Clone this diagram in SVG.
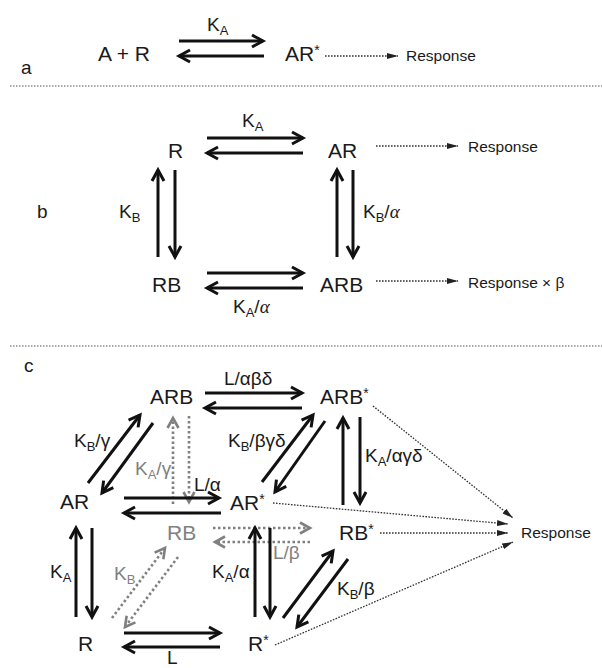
<svg xmlns="http://www.w3.org/2000/svg" width="602" height="668" viewBox="0 0 602 668">
<defs>
<style>
text{font-family:"Liberation Sans",Arial,sans-serif;fill:#1a1a1a}
.n{font-size:21px}
.r{font-size:19px}
.lab{font-size:19px}
.resp{font-size:15.5px}
.g{fill:#7f7f7f}
.sub{font-size:13px}
.star{font-size:14px}
.s{stroke:#111;stroke-width:3;fill:none;marker-end:url(#ah)}
.gd{stroke:#808080;stroke-width:2.6;stroke-dasharray:2.5 2.5;fill:none;marker-end:url(#gh)}
.d{stroke:#333;stroke-width:1.3;stroke-dasharray:1.6 1.4;fill:none;marker-end:url(#dh)}
.sep{stroke:#555;stroke-width:1.2;stroke-dasharray:1.5 1.5;fill:none}
</style>
<marker id="ah" markerUnits="userSpaceOnUse" markerWidth="16" markerHeight="16" viewBox="0 0 16 16" refX="13.5" refY="8" orient="auto" overflow="visible">
<path d="M2.5,2 L13.5,8 L2.5,14" stroke="#111" stroke-width="3" fill="none"/>
</marker>
<marker id="gh" markerUnits="userSpaceOnUse" markerWidth="16" markerHeight="16" viewBox="0 0 16 16" refX="13" refY="8" orient="auto" overflow="visible">
<path d="M3,2.5 L13,8 L3,13.5" stroke="#808080" stroke-width="2.6" fill="none"/>
</marker>
<marker id="dh" markerUnits="userSpaceOnUse" markerWidth="12" markerHeight="8" viewBox="0 0 12 8" refX="11" refY="4" orient="auto">
<path d="M0,1 L11,4 L0,7 z" fill="#222"/>
</marker>
</defs>

<!-- separators -->
<line class="sep" x1="10" y1="86" x2="602" y2="86"/>
<line class="sep" x1="10" y1="346" x2="602" y2="346"/>

<!-- ===== Section a ===== -->
<text x="21" y="74" style="font-size:19px">a</text>
<g id="a-AR">
<text class="n" x="98" y="61">A + R</text>
</g>
<g id="a-ARstar">
<text class="n" x="285" y="61">AR<tspan class="star" dy="-6">*</tspan></text>
</g>
<g id="a-resp">
<text class="resp" x="406" y="61">Response</text>
</g>
<g id="a-connectors">
<line class="s" x1="179" y1="41" x2="263" y2="41"/>
<line class="s" x1="264" y1="56" x2="179" y2="56"/>
<text class="r" x="207" y="31">K<tspan class="sub" dy="4">A</tspan></text>
<line class="d" x1="325" y1="56" x2="398" y2="56"/>
</g>

<!-- ===== Section b ===== -->
<text x="37" y="218" style="font-size:19px">b</text>
<g id="b-R"><text class="n" x="168" y="158">R</text></g>
<g id="b-AR"><text class="n" x="328" y="158">AR</text></g>
<g id="b-RB"><text class="n" x="152" y="292">RB</text></g>
<g id="b-ARB"><text class="n" x="320" y="292">ARB</text></g>
<g id="b-resp1"><text class="resp" x="468" y="152">Response</text></g>
<g id="b-resp2"><text class="resp" x="468" y="288">Response × β</text></g>
<g id="b-connectors">
<line class="s" x1="207" y1="138" x2="303" y2="138"/>
<line class="s" x1="303" y1="153" x2="207" y2="153"/>
<text class="r" x="242" y="127">K<tspan class="sub" dy="4">A</tspan></text>
<line class="s" x1="207" y1="273" x2="303" y2="273"/>
<line class="s" x1="303" y1="288" x2="207" y2="288"/>
<text class="r" x="233" y="313">K<tspan class="sub" dy="4">A</tspan><tspan dy="-4">/</tspan><tspan style="font-family:'Liberation Serif',serif;font-style:italic">α</tspan></text>
<line class="s" x1="158" y1="257" x2="158" y2="170"/>
<line class="s" x1="175" y1="170" x2="175" y2="257"/>
<text class="r" x="119" y="218">K<tspan class="sub" dy="4">B</tspan></text>
<line class="s" x1="337" y1="257" x2="337" y2="170"/>
<line class="s" x1="353" y1="170" x2="353" y2="257"/>
<text class="r" x="363" y="218">K<tspan class="sub" dy="4">B</tspan><tspan dy="-4">/</tspan><tspan style="font-family:'Liberation Serif',serif;font-style:italic">α</tspan></text>
<line class="d" x1="376" y1="146" x2="458" y2="146"/>
<line class="d" x1="376" y1="281" x2="458" y2="281"/>
</g>

<!-- ===== Section c ===== -->
<text x="24" y="372" style="font-size:19px">c</text>
<g id="c-ARB"><text class="n" x="150" y="404">ARB</text></g>
<g id="c-ARBstar"><text class="n" x="320" y="404">ARB<tspan class="star" dy="-6">*</tspan></text></g>
<g id="c-AR"><text class="n" x="60" y="509">AR</text></g>
<g id="c-ARstar"><text class="n" x="230" y="510">AR<tspan class="star" dy="-6">*</tspan></text></g>
<g id="c-RB"><text class="n g" x="167" y="540">RB</text></g>
<g id="c-RBstar"><text class="n" x="339" y="540">RB<tspan class="star" dy="-6">*</tspan></text></g>
<g id="c-R"><text class="n" x="78" y="651">R</text></g>
<g id="c-Rstar"><text class="n" x="248" y="651">R<tspan class="star" dy="-6">*</tspan></text></g>
<g id="c-resp"><text class="resp" x="521" y="538">Response</text></g>

<g id="c-connectors">
<!-- ARB <-> ARB* -->
<line class="s" x1="205" y1="393" x2="302" y2="393"/>
<line class="s" x1="302" y1="408" x2="205" y2="408"/>
<text class="lab" x="224" y="385">L/αβδ</text>
<!-- ARB <-> AR diag -->
<line class="s" x1="88" y1="483" x2="140" y2="415"/>
<line class="s" x1="153" y1="423" x2="102" y2="493"/>
<text class="lab" x="74" y="447">K<tspan class="sub" dy="4">B</tspan><tspan dy="-4">/γ</tspan></text>
<!-- ARB <-> RB gray vertical -->
<line class="gd" x1="173" y1="504" x2="173" y2="418"/>
<line class="gd" x1="189" y1="416" x2="189" y2="502"/>
<text class="lab g" x="135" y="475">K<tspan class="sub" dy="4">A</tspan><tspan dy="-4">/γ</tspan></text>
<!-- AR <-> AR* -->
<line class="s" x1="124" y1="498" x2="219" y2="498"/>
<line class="s" x1="221" y1="513" x2="124" y2="513"/>
<text class="lab" x="194" y="491">L/α</text>
<!-- ARB* <-> AR* diag -->
<line class="s" x1="262" y1="482" x2="313" y2="415"/>
<line class="s" x1="325" y1="421" x2="275" y2="492"/>
<text class="lab" x="228" y="447">K<tspan class="sub" dy="4">B</tspan><tspan dy="-4">/βγδ</tspan></text>
<!-- ARB* <-> RB* vertical -->
<line class="s" x1="343" y1="505" x2="343" y2="418"/>
<line class="s" x1="360" y1="417" x2="360" y2="503"/>
<text class="lab" x="365" y="462">K<tspan class="sub" dy="4">A</tspan><tspan dy="-4">/αγδ</tspan></text>
<!-- RB <-> RB* gray -->
<line class="gd" x1="213" y1="528" x2="310" y2="528"/>
<line class="gd" x1="310" y1="542" x2="215" y2="542"/>
<text class="lab g" x="273" y="559">L/β</text>
<!-- AR <-> R vertical -->
<line class="s" x1="76" y1="617" x2="76" y2="528"/>
<line class="s" x1="92" y1="528" x2="92" y2="617"/>
<text class="lab" x="50" y="578">K<tspan class="sub" dy="4">A</tspan></text>
<!-- AR* <-> R* vertical -->
<line class="s" x1="255" y1="617" x2="255" y2="528"/>
<line class="s" x1="270" y1="528" x2="270" y2="617"/>
<text class="lab" x="212" y="578">K<tspan class="sub" dy="4">A</tspan><tspan dy="-4">/α</tspan></text>
<!-- RB <-> R gray diag -->
<line class="gd" x1="112" y1="618" x2="165" y2="548"/>
<line class="gd" x1="178" y1="557" x2="125" y2="627"/>
<text class="lab g" x="114" y="580">K<tspan class="sub" dy="4">B</tspan></text>
<!-- R <-> R* -->
<line class="s" x1="124" y1="633" x2="220" y2="633"/>
<line class="s" x1="220" y1="647" x2="124" y2="647"/>
<text class="lab" x="167" y="664">L</text>
<!-- RB* <-> R* diag -->
<line class="s" x1="283" y1="618" x2="333" y2="551"/>
<line class="s" x1="348" y1="559" x2="297" y2="627"/>
<text class="lab" x="337" y="595">K<tspan class="sub" dy="4">B</tspan><tspan dy="-4">/β</tspan></text>
<!-- responses -->
<line class="d" x1="373" y1="406" x2="513" y2="518"/>
<line class="d" x1="273" y1="503" x2="508" y2="524"/>
<line class="d" x1="380" y1="533" x2="508" y2="533"/>
<line class="d" x1="275" y1="645" x2="513" y2="542"/>
</g>
</svg>
